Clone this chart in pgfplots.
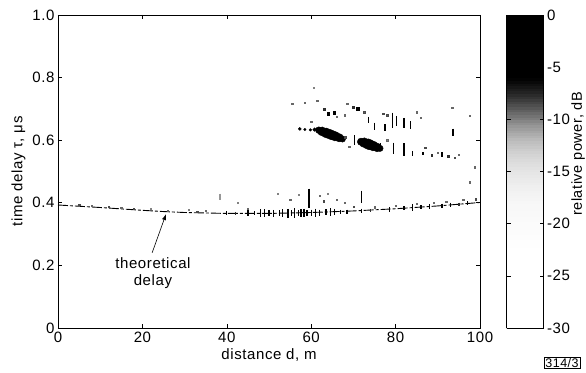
\documentclass[border=0pt]{standalone}
\usepackage{pgfplots}
\pgfplotsset{compat=1.18}
\usepackage{fontspec}
\setmainfont{Liberation Sans}[LetterSpace=4]
\usetikzlibrary{arrows.meta}
\pgfplotsset{/pgf/number format/assume math mode=true}
\begin{document}
\begin{tikzpicture}[font=\fontsize{15}{18}\selectfont]
\useasboundingbox (-58pt,-44pt) rectangle (528pt,328pt);
\begin{axis}[
  at={(0pt,0pt)}, anchor=south west,
  scale only axis, width=422pt, height=313pt,
  xmin=0, xmax=100, ymin=0, ymax=1,
  xtick={0,20,40,60,80,100},
  ytick={0,0.2,0.4,0.6,0.8,1},
  yticklabels={0,0.2,0.4,0.6,0.8,1.0},
  tick align=inside, major tick length=4pt,
  tick style={black, line width=0.6pt},
  axis line style={black, line width=0.8pt},
  tick label style={font=\fontsize{15}{18}\selectfont},
  label style={font=\fontsize{15}{18}\selectfont},
  xlabel={distance d, m},
  ylabel={time delay τ, μs},
  colorbar sampled,
  colormap={rp}{gray(0cm)=(1); gray(1cm)=(1); gray(2cm)=(1); gray(3cm)=(1); gray(4cm)=(1); gray(5cm)=(1);
    gray(6cm)=(0.99); gray(7cm)=(0.98); gray(8cm)=(0.97); gray(9cm)=(0.94); gray(10cm)=(0.9);
    gray(11cm)=(0.84); gray(12cm)=(0.74); gray(13cm)=(0.58); gray(14cm)=(0.36); gray(15cm)=(0.15);
    gray(16cm)=(0); gray(17cm)=(0); gray(18cm)=(0); gray(19cm)=(0); gray(20cm)=(0)},
  point meta min=-30, point meta max=0,
  colorbar style={
    at={(parent axis.north east)}, anchor=north west, xshift=18pt,
    width=37pt, samples=121,
    ytick={-30,-25,-20,-15,-10,-5,0},
    tick align=inside, major tick length=4pt,
    tick style={black, line width=0.6pt},
    axis line style={black, line width=0.8pt},
    yticklabel style={font=\fontsize{15}{18}\selectfont},
  },
]
% theoretical delay curve
\addplot[black, line width=0.9pt, dash pattern=on 10pt off 2pt on 3pt off 2pt] table {
d t
0 0.393
10 0.385
20 0.376
25 0.372
30 0.369
40 0.366
50 0.366
60 0.369
70 0.374
80 0.381
90 0.390
100 0.401
};
% echo strokes
\addplot[scatter, only marks, mark=|, point meta=explicit,
  mark options={line width=1.2pt},
  visualization depends on={\thisrow{s} \as \ms},
  scatter/@pre marker code/.append style={/tikz/mark size=\ms pt}]
  table[x=d, y=t, meta=c] {
d t c s
40 0.366 -6 2
42 0.366 -8 1.5
45 0.366 -2 3
46.5 0.366 -4 2
48 0.366 0 4
49 0.366 0 4
50 0.366 -2 3
51 0.366 0 3.5
52.5 0.366 -2 3
53.2 0.366 0 4
54.5 0.366 0 4.5
55.3 0.367 -2 3
56 0.367 0 5
57 0.367 -2 3
57.6 0.367 0 4
58.3 0.368 0 4
59 0.368 -2 3
60 0.369 -2 3
61 0.369 0 4
62 0.369 -3 3
63.5 0.370 -3 3
64.5 0.370 0 4
65.5 0.371 -3 3
67 0.371 -6 2
68.5 0.372 -6 2
72 0.375 -6 2
74 0.376 -8 1.5
78.6 0.379 -4 2.5
82 0.383 -6 2
84 0.385 -3 3.5
86 0.386 -6 2
88 0.388 -4 2.5
91 0.391 -6 2
93 0.394 -6 2
95 0.396 -8 1.5
97 0.398 -6 2
59.5 0.415 -4 9.5
72 0.42 -6 6
38.4 0.42 -12 3
93.6 0.626 -4 3.5
70.3 0.60 0 5
79.3 0.664 0 7.5
80.3 0.662 -1 5
82 0.655 0 5
83.5 0.648 -1 4
77.5 0.64 -2 3.5
73.5 0.665 -3 3
75 0.645 -3 3.5
76.5 0.583 -1 2.5
79.5 0.575 0 5.5
82 0.57 0 6.5
84 0.558 -2 2.5
86.5 0.557 -5 1.5
91 0.553 -5 2.5
};
% strong echo blobs
\addplot[scatter, only marks, mark=*, point meta=explicit,
  visualization depends on={\thisrow{s} \as \ms},
  scatter/@pre marker code/.append style={/tikz/mark size=\ms pt}]
  table[x=d, y=t, meta=c] {
d t c s
57.3 0.636 -3 1.5
58.5 0.634 -4 1.2
59.8 0.633 -3 1.3
60.8 0.634 -2 1.8
61.8 0.632 0 3.4
62.6 0.628 0 4.5
63.6 0.623 0 5
64.6 0.618 0 5
65.6 0.613 0 4.8
66.6 0.608 0 4.2
67.4 0.604 0 3.2
71.8 0.595 0 3.7
72.6 0.592 0 4.9
73.6 0.587 0 5.4
74.6 0.582 0 5
75.6 0.577 0 4.4
76.3 0.574 0 3.2
};
% weak scattered returns
\addplot[scatter, only marks, mark=square*, point meta=explicit,
  visualization depends on={\thisrow{s} \as \ms},
  scatter/@pre marker code/.append style={/tikz/mark size=\ms pt}]
  table[x=d, y=t, meta=c] {
d t c s
5 0.393 -9 0.7
8 0.391 -10 0.6
12 0.387 -9 0.7
15 0.384 -10 0.6
18 0.381 -9 0.7
22 0.381 -11 0.6
26 0.375 -10 0.6
31 0.379 -11 0.6
33 0.371 -9 0.7
35 0.376 -10 0.6
42.5 0.40 -11 0.6
45 0.381 -10 0.6
52 0.43 -11 0.6
55 0.41 -10 0.6
57 0.425 -11 0.6
62 0.422 -10 0.6
63 0.405 -9 0.7
64 0.43 -11 0.6
66 0.41 -10 0.6
68 0.40 -10 0.6
70 0.388 -9 0.7
75 0.386 -10 0.6
80 0.392 -10 0.6
85 0.396 -10 0.6
89 0.401 -10 0.6
92 0.404 -10 0.6
96 0.41 -10 0.6
99 0.412 -9 0.7
98.8 0.514 -10 0.6
97.6 0.466 -10 0.6
55.5 0.716 -10 0.7
58.5 0.72 -10 0.7
61.4 0.726 -10 0.7
60.5 0.767 -11 0.6
68.5 0.716 -10 0.7
63 0.70 -8 0.9
64 0.685 -6 1.2
65.5 0.688 -6 1.2
71 0.70 -6 1.3
70 0.706 -8 0.9
72.5 0.69 -9 0.8
66 0.675 -10 0.7
68 0.68 -10 0.7
77 0.685 -9 0.8
78 0.68 -9 0.8
85 0.69 -10 0.7
86 0.672 -10 0.7
93.4 0.704 -10 0.7
97.6 0.678 -10 0.7
87 0.576 -9 0.7
88.6 0.552 -8 0.8
92.5 0.548 -8 0.8
94 0.545 -9 0.7
90 0.56 -10 0.7
95 0.553 -10 0.7
68 0.61 -9 0.8
69 0.58 -10 0.7
78 0.6 -10 0.7
60 0.66 -10 0.6
};
\draw[black, line width=0.6pt, -{Latex[length=6pt,width=4pt]}] (axis cs:22.3,0.24) -- (axis cs:25.6,0.364);
\node[align=center, font=\fontsize{15}{17}\selectfont] at (axis cs:22.5,0.175) {theoretical\\delay};
\end{axis}
\node[rotate=90, font=\fontsize{14.5}{17}\selectfont] at (520pt,174pt) {relative power, dB};
\node[draw, line width=0.6pt, inner sep=1.2pt, font=\fontsize{12.5}{13}\selectfont] at (504pt,-35pt) {314/3};
\end{tikzpicture}
\end{document}
